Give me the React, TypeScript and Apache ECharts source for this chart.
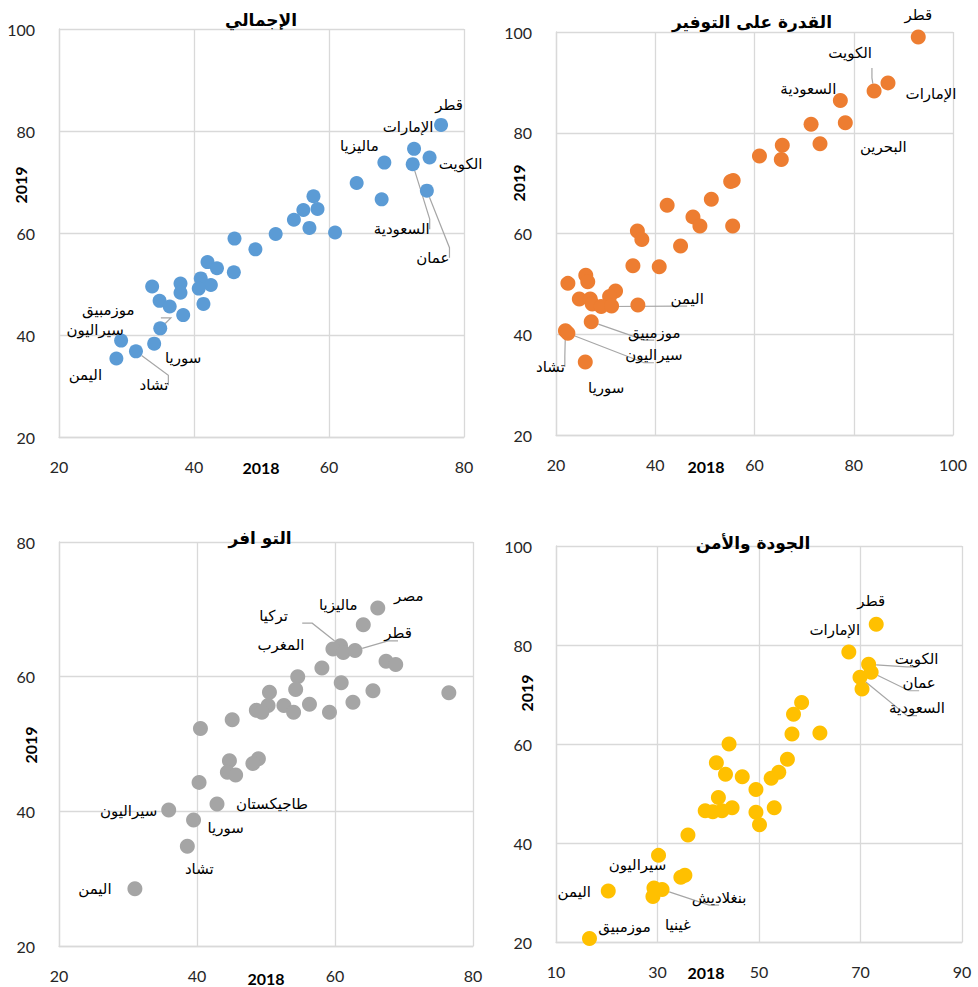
import React, { useEffect, useRef } from "react";
import * as echarts from "echarts";

// ---------- DATA ----------
const titles = ["الإجمالي", "القدرة على التوفير", "التو افر", "الجودة والأمن"];
const xAxisName = "2018";
const yAxisName = "2019";

// Panel 1: overall
const totalPoints: [number, number][] = [
  [76.6, 81.2], [72.6, 76.5], [74.9, 74.8], [68.2, 73.8], [72.4, 73.5], [64.1, 69.8], [67.8, 66.6], [74.5, 68.3],
  [57.7, 67.2], [56.2, 64.5], [58.3, 64.7], [54.8, 62.6], [57.1, 61.0], [60.9, 60.1], [52.1, 59.8], [46.0, 58.9],
  [49.1, 56.8], [42.0, 54.3], [43.4, 53.1], [45.9, 52.3], [41.0, 51.1], [42.5, 49.8], [40.7, 49.1], [38.0, 50.1],
  [38.0, 48.3], [33.8, 49.5], [34.9, 46.7], [36.4, 45.6], [41.4, 46.1], [38.4, 43.9], [35.0, 41.3], [29.2, 38.9],
  [34.1, 38.3], [31.4, 36.8], [28.5, 35.4],
];
const totalNames: [number, string][] = [
  [0, "قطر"], [1, "الإمارات"], [2, "الكويت"], [3, "ماليزيا"], [4, "السعودية"], [7, "عمان"],
  [30, "موزمبيق"], [31, "سيراليون"], [32, "سوريا"], [33, "تشاد"], [34, "اليمن"],
];

// Panel 2: affordability
const affordPoints: [number, number][] = [
  [93.0, 99.0], [86.9, 89.9], [84.1, 88.3], [77.3, 86.4], [78.3, 82.0], [71.4, 81.7], [73.2, 77.8], [65.6, 77.5],
  [65.4, 74.7], [61.0, 75.4], [55.7, 70.5], [55.2, 70.3], [51.3, 66.8], [42.4, 65.6], [47.6, 63.3], [49.0, 61.5],
  [55.6, 61.5], [36.4, 60.5], [37.3, 58.8], [45.1, 57.5], [35.5, 53.6], [40.8, 53.4], [26.0, 51.7], [26.4, 50.4],
  [22.4, 50.1], [32.0, 48.6], [30.8, 47.5], [24.7, 47.0], [26.9, 47.0], [27.3, 46.0], [29.1, 45.5], [31.2, 45.6],
  [36.5, 45.8], [27.1, 42.5], [21.9, 40.7], [22.4, 40.2], [25.9, 34.5],
];
const affordNames: [number, string][] = [
  [0, "قطر"], [1, "الإمارات"], [2, "الكويت"], [3, "السعودية"], [4, "البحرين"],
  [30, "اليمن"], [33, "موزمبيق"], [34, "تشاد"], [35, "سيراليون"], [36, "سوريا"],
];

// Panel 3: availability
const availPoints: [number, number][] = [
  [66.2, 70.2], [64.1, 67.7], [60.8, 64.6], [59.7, 64.1], [61.2, 63.6], [62.9, 63.9], [67.4, 62.3], [68.8, 61.8],
  [58.1, 61.3], [54.6, 60.0], [60.9, 59.1], [54.3, 58.1], [65.5, 57.9], [76.5, 57.6], [50.5, 57.7], [56.3, 55.9],
  [52.6, 55.7], [50.3, 55.7], [62.6, 56.2], [48.6, 55.0], [49.4, 54.7], [54.0, 54.7], [59.2, 54.7], [45.1, 53.6],
  [40.5, 52.3], [44.7, 47.5], [48.9, 47.8], [48.1, 47.1], [44.4, 45.8], [45.6, 45.4], [40.3, 44.3], [42.9, 41.1],
  [35.9, 40.2], [39.5, 38.7], [38.6, 34.8], [31.0, 28.5],
];
const availNames: [number, string][] = [
  [0, "مصر"], [1, "ماليزيا"], [2, "تركيا"], [3, "المغرب"], [5, "قطر"],
  [31, "طاجيكستان"], [32, "سيراليون"], [33, "سوريا"], [34, "تشاد"], [35, "اليمن"],
];

// Panel 4: quality and safety
const qualityPoints: [number, number][] = [
  [73.1, 84.2], [67.7, 78.6], [71.6, 76.1], [72.1, 74.5], [69.9, 73.5], [70.3, 71.1], [58.4, 68.4], [56.8, 66.0],
  [56.5, 62.0], [62.0, 62.2], [44.1, 60.0], [55.6, 56.9], [41.6, 56.2], [43.4, 53.9], [46.7, 53.4], [53.9, 54.3],
  [52.4, 53.1], [49.4, 50.8], [42.0, 49.2], [39.4, 46.5], [40.9, 46.3], [42.7, 46.5], [44.7, 47.1], [49.4, 46.2],
  [53.0, 47.1], [50.1, 43.7], [36.0, 41.6], [30.2, 37.5], [35.4, 33.5], [34.6, 33.1], [20.3, 30.3], [29.3, 30.9],
  [30.9, 30.6], [29.1, 29.2], [16.6, 20.7],
];
const qualityNames: [number, string][] = [
  [0, "قطر"], [1, "الإمارات"], [2, "الكويت"], [3, "عمان"], [4, "السعودية"],
  [27, "سيراليون"], [30, "اليمن"], [32, "بنغلاديش"], [33, "غينيا"], [34, "موزمبيق"],
];

// ---------- STYLE / LAYOUT ----------
// label offsets (px, relative to point) and whether a leader line is drawn, same order as the names lists
const totalLabelStyle: [number, number, boolean][] = [
  [8, -20, false], [-6, -22, false], [31, 6, false], [-25, -17, false], [-11, 65, true], [6, 67, true],
  [-52, -18, true], [-26, -11, false], [29, 14, false], [18, 34, true], [-31, 17, false],
];
const affordLabelStyle: [number, number, boolean][] = [
  [0, -22, false], [43, 11, false], [-24, -38, true], [-32, -12, false], [38, 24, false],
  [86, -8, true], [63, 11, true], [-15, 36, true], [86, 22, true], [21, 26, false],
];
const availLabelStyle: [number, number, boolean][] = [
  [31, -12, false], [-25, -20, false], [-67, -30, true], [-52, -4, true], [43, -17, true],
  [55, 0, false], [-40, 1, false], [32, 8, false], [12, 23, false], [-40, 0, false],
];
const qualityLabelStyle: [number, number, boolean][] = [
  [-5, -23, false], [-14, -22, false], [48, -5, true], [48, 11, true], [57, 31, true],
  [-21, 10, false], [-34, 1, false], [57, 8, true], [25, 29, false], [35, -12, false],
];

const FONT = "Lato, 'DejaVu Sans', sans-serif";
const AR_FONT = "'DejaVu Sans', sans-serif";
const GRID_COLOR = "#D9D9D9";

const grids = [
  { left: 59, top: 29, width: 405, height: 408 },
  { left: 556, top: 32, width: 397, height: 403 },
  { left: 59, top: 542, width: 414, height: 404 },
  { left: 556, top: 546, width: 406, height: 396 },
];
const xRanges = [[20, 80], [20, 100], [20, 80], [10, 90]];
const yRanges = [[20, 100], [20, 100], [20, 80], [20, 100]];
const colors = ["#5B9BD5", "#ED7D31", "#A5A5A5", "#FFC000"];
const symbolSizes = [14, 15, 15, 15];
const titlePos = [[261, 20], [752, 22], [260, 538], [753, 543]];
const xNamePos = [[261, 467], [706, 466], [266, 978], [706, 972]];
const yNamePos = [[20, 185], [518, 183], [30, 745], [526, 693]];

function buildData(points: [number, number][], names: [number, string][], styles: [number, number, boolean][]) {
  return points.map((p, i) => {
    const k = names.findIndex((n) => n[0] === i);
    if (k < 0) return { value: p };
    const [dx, dy, line] = styles[k];
    return {
      value: p,
      name: names[k][1],
      label: { show: true, offset: [dx, dy] },
      labelLine: { show: line },
    };
  });
}

export default function App() {
  const ref = useRef<HTMLDivElement>(null);
  useEffect(() => {
    document.body.style.margin = "0";
    if (!ref.current) return;
    const chart = echarts.init(ref.current, undefined, { renderer: "svg" });
    const sets = [
      buildData(totalPoints, totalNames, totalLabelStyle),
      buildData(affordPoints, affordNames, affordLabelStyle),
      buildData(availPoints, availNames, availLabelStyle),
      buildData(qualityPoints, qualityNames, qualityLabelStyle),
    ];
    const textGraphics: any[] = [];
    titles.forEach((t, i) => {
      textGraphics.push({
        type: "text",
        x: titlePos[i][0],
        y: titlePos[i][1],
        z: 100,
        style: { text: t, align: "center", verticalAlign: "middle", font: `bold 17px ${AR_FONT}`, fill: "#000" },
      });
      textGraphics.push({
        type: "text",
        x: xNamePos[i][0],
        y: xNamePos[i][1],
        z: 100,
        style: { text: xAxisName, align: "center", verticalAlign: "middle", font: `bold 16px ${FONT}`, fill: "#000" },
      });
      textGraphics.push({
        type: "text",
        x: yNamePos[i][0],
        y: yNamePos[i][1],
        rotation: Math.PI / 2,
        z: 100,
        style: { text: yAxisName, align: "center", verticalAlign: "middle", font: `bold 16px ${FONT}`, fill: "#000" },
      });
    });
    const option: any = {
      animation: false,
      backgroundColor: "#fff",
      grid: grids.map((g) => ({ ...g, containLabel: false, outerBoundsMode: "none" })),
      xAxis: grids.map((_, i) => ({
        type: "value",
        gridIndex: i,
        min: xRanges[i][0],
        max: xRanges[i][1],
        interval: 20,
        axisLine: { show: true, onZero: false, lineStyle: { color: GRID_COLOR, width: 1.3 } },
        axisTick: { show: false },
        axisLabel: { margin: 21, fontSize: 16, color: "#262626", fontFamily: FONT },
        splitLine: { show: true, lineStyle: { color: GRID_COLOR, width: 1.3 } },
      })),
      yAxis: grids.map((_, i) => ({
        type: "value",
        gridIndex: i,
        min: yRanges[i][0],
        max: yRanges[i][1],
        interval: 20,
        axisLine: { show: true, onZero: false, lineStyle: { color: GRID_COLOR, width: 1.3 } },
        axisTick: { show: false },
        axisLabel: { margin: 24, fontSize: 16, color: "#262626", fontFamily: FONT },
        splitLine: { show: true, lineStyle: { color: GRID_COLOR, width: 1.3 } },
      })),
      series: sets.map((d, i) => ({
        type: "scatter",
        xAxisIndex: i,
        yAxisIndex: i,
        symbol: "circle",
        symbolSize: symbolSizes[i],
        itemStyle: { color: colors[i], opacity: 1 },
        data: d,
        label: {
          show: false,
          position: "inside",
          formatter: "{b}",
          color: "#000",
          fontSize: 15,
          fontFamily: AR_FONT,
          textBorderWidth: 0,
        },
        labelLine: { show: false, length2: 10, smooth: false, lineStyle: { color: "#A6A6A6", width: 1.2 } },
        emphasis: { disabled: true },
      })),
      graphic: textGraphics,
    };
    chart.setOption(option);
    return () => chart.dispose();
  }, []);
  return <div ref={ref} style={{ width: 978, height: 987 }} />;
}
